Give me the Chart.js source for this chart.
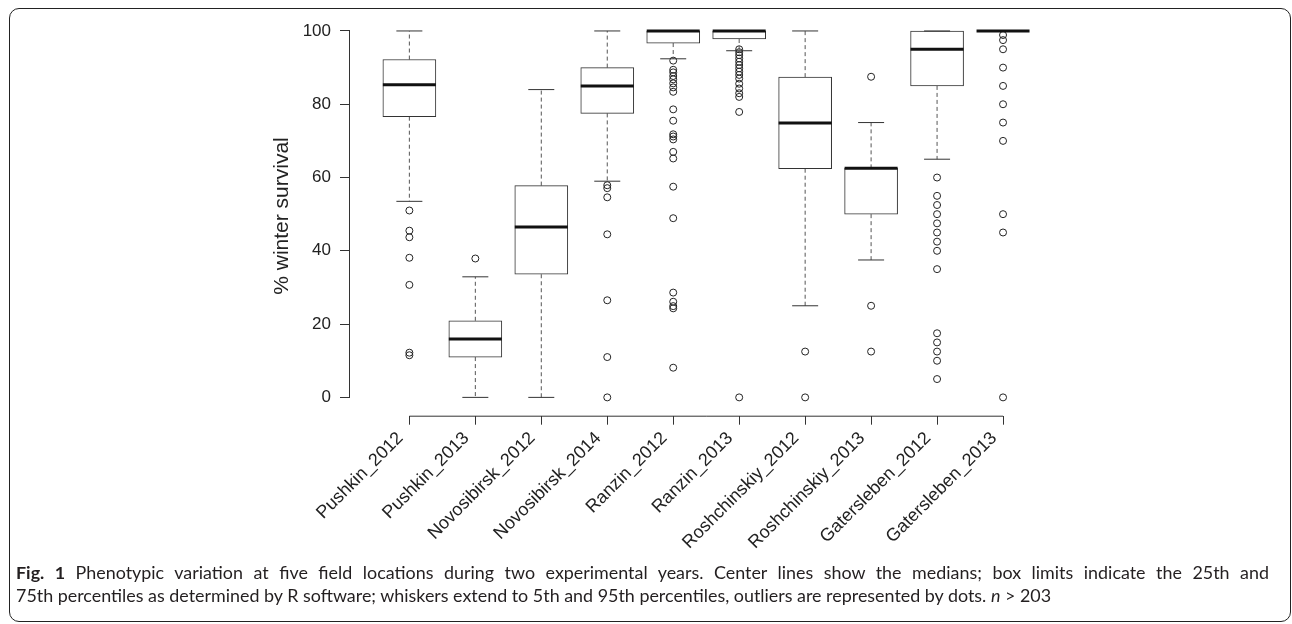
<!DOCTYPE html>
<html>
<head>
<meta charset="utf-8">
<script src="https://cdn.jsdelivr.net/npm/chart.js@4/dist/chart.umd.min.js"></script>
<style>
    body {
        margin: 0;
        width: 1292px;
        height: 624px;
        overflow: hidden;
        background: #fff;
    }
    #frame {
        position: absolute;
        left: 9px;
        top: 8px;
        width: 1280px;
        height: 612px;
        border: 1.5px solid #222;
        border-radius: 10px;
    }
    #wrap {
        position: absolute;
        left: 0;
        top: 0;
        width: 1292px;
        height: 624px;
    }
    #caption {
        position: absolute;
        left: 16px;
        top: 561px;
        width: 1253px;
        font-family: Lato, "Open Sans", sans-serif;
        font-size: 17.9px;
        line-height: 23px;
        color: #231f20;
        white-space: nowrap;
    }
    #caption .full {
        text-align: justify;
        text-align-last: justify;
        white-space: normal;
    }
</style>
</head>
<body>
<div id="frame"></div>
<div id="wrap"><canvas id="chart" width="1292" height="624"></canvas></div>
<div id="caption">
    <div class="full"><b>Fig. 1</b> Phenotypic variation at five field locations during two experimental years. Center lines show the medians; box limits indicate the 25th and</div>
    <div>75th percentiles as determined by R software; whiskers extend to 5th and 95th percentiles, outliers are represented by dots. <i>n</i> &gt; 203</div>
</div>
<script>
const categories = [
    "Pushkin_2012", "Pushkin_2013", "Novosibirsk_2012", "Novosibirsk_2014", "Ranzin_2012",
    "Ranzin_2013", "Roshchinskiy_2012", "Roshchinskiy_2013", "Gatersleben_2012", "Gatersleben_2013",
];
const whiskerLow = [53.5, 0, 0, 59.0, 92.4, 94.6, 25.0, 37.5, 65.0, 100];
const quartile1 = [76.6, 11.0, 33.6, 77.5, 96.7, 97.8, 62.4, 50.0, 85.0, 100];
const medians = [85.3, 15.9, 46.5, 85.0, 100, 100, 74.9, 62.5, 95.0, 100];
const quartile3 = [92.2, 20.9, 57.8, 90.0, 100, 100, 87.4, 62.5, 100, 100];
const whiskerHigh = [100, 32.9, 84.0, 100, 100, 100, 100, 75.0, 100, 100];
const outliers = [
    [51.0, 45.5, 43.7, 38.1, 30.7, 12.2, 11.5],
    [37.9],
    [],
    [57.9, 57.1, 54.6, 44.5, 26.5, 11.0, 0],
    [91.9, 89.4, 88.7, 87.7, 86.8, 85.7, 84.6, 83.4, 78.6, 75.5, 71.8, 71.2, 70.4, 67.0, 65.2,
        57.5, 48.9, 28.6, 26.1, 24.9, 24.3, 8.1],
    [95.0, 94.2, 93.4, 92.5, 91.6, 90.7, 89.8, 88.9, 88.0, 87.0, 85.6, 84.3, 83.0, 82.0, 77.9, 0],
    [12.5, 0],
    [87.5, 25.0, 12.5],
    [60.0, 55.0, 52.5, 50.0, 47.5, 45.0, 42.5, 40.0, 35.0, 17.5, 15.0, 12.5, 10.0, 5.0],
    [98.9, 97.5, 95.0, 90.0, 85.0, 80.0, 75.0, 70.0, 50.0, 45.0, 0],
];
const yTicks = [0, 20, 40, 60, 80, 100];

const positions = categories.map((name, i) => i + 1);

const boxData = positions.map((x, i) => ({ x: x, y: [quartile1[i], quartile3[i]] }));
const medianData = positions.map((x, i) => ({ x: x, y: medians[i] }));
const capData = positions.flatMap((x, i) => [
    { x: x, y: whiskerLow[i] },
    { x: x, y: whiskerHigh[i] },
]);
const whiskerData = positions.flatMap((x, i) => [
    { x: x, y: quartile3[i] },
    { x: x, y: whiskerHigh[i] },
    { x: x, y: null },
    { x: x, y: quartile1[i] },
    { x: x, y: whiskerLow[i] },
    { x: x, y: null },
]);
const outlierData = positions.flatMap((x, i) => {
    return outliers[i].map((v) => ({ x: x, y: v }));
});

const axisLines = {
    id: "axisLines",
    afterDraw(chart) {
        const ctx = chart.ctx;
        const xs = chart.scales.x;
        const ys = chart.scales.y;
        ctx.save();
        ctx.strokeStyle = "#333";
        ctx.lineWidth = 1;
        ctx.beginPath();
        ctx.moveTo(xs.left - 0.5, ys.getPixelForValue(yTicks[0]));
        ctx.lineTo(xs.left - 0.5, ys.getPixelForValue(yTicks[yTicks.length - 1]));
        ctx.moveTo(xs.getPixelForValue(positions[0]), ys.bottom + 0.5);
        ctx.lineTo(xs.getPixelForValue(positions[positions.length - 1]), ys.bottom + 0.5);
        ctx.stroke();
        ctx.restore();
    },
};

const tickFont = { family: "'Liberation Sans', Arial, sans-serif", size: 17 };

new Chart(document.getElementById("chart"), {
    type: "bar",
    data: {
        datasets: [
            {
                type: "scatter",
                data: medianData,
                pointStyle: "line",
                pointRadius: 26.5,
                pointBorderWidth: 3,
                borderColor: "#111",
                clip: false,
            },
            {
                type: "scatter",
                data: capData,
                pointStyle: "line",
                pointRadius: 13,
                pointBorderWidth: 1,
                borderColor: "#333",
                clip: false,
            },
            {
                type: "bar",
                data: boxData,
                barThickness: 53,
                backgroundColor: "#fff",
                borderColor: "#333",
                borderWidth: 1,
                borderSkipped: false,
            },
            {
                type: "line",
                data: whiskerData,
                borderColor: "#555",
                borderWidth: 1,
                borderDash: [4, 3],
                pointRadius: 0,
                spanGaps: false,
            },
            {
                type: "scatter",
                data: outlierData,
                pointStyle: "circle",
                pointRadius: 3.5,
                pointBorderWidth: 1,
                borderColor: "#222",
                backgroundColor: "rgba(0,0,0,0)",
                clip: false,
            },
        ],
    },
    options: {
        responsive: false,
        animation: false,
        events: [],
        layout: {
            autoPadding: false,
            padding: { left: 270, right: 229.6, top: 16.3, bottom: 0 },
        },
        plugins: {
            legend: { display: false },
            tooltip: { enabled: false },
        },
        scales: {
            x: {
                type: "linear",
                min: 0.1,
                max: 10.9,
                offset: false,
                afterBuildTicks: (axis) => {
                    axis.ticks = positions.map((v) => ({ value: v }));
                },
                afterFit: (axis) => {
                    axis.height = 208.3;
                    axis.paddingLeft = 0;
                    axis.paddingRight = 0;
                },
                grid: {
                    drawOnChartArea: false,
                    drawTicks: true,
                    tickLength: 9,
                    tickColor: "#333",
                    offset: false,
                },
                border: { display: false },
                ticks: {
                    autoSkip: false,
                    minRotation: 45,
                    maxRotation: 45,
                    padding: 3,
                    labelOffset: -9,
                    color: "#222",
                    font: { family: "'Liberation Sans', Arial, sans-serif", size: 18 },
                    callback: (value) => categories[value - 1],
                },
            },
            y: {
                min: -5,
                max: 104,
                afterBuildTicks: (axis) => {
                    axis.ticks = yTicks.map((v) => ({ value: v }));
                },
                afterFit: (axis) => {
                    axis.width = 80;
                    axis.paddingTop = 0;
                    axis.paddingBottom = 0;
                },
                grid: {
                    drawOnChartArea: false,
                    drawTicks: true,
                    tickLength: 10,
                    tickColor: "#333",
                },
                border: { display: false },
                ticks: {
                    padding: 9,
                    color: "#222",
                    font: tickFont,
                },
                title: {
                    display: true,
                    text: "% winter survival",
                    color: "#222",
                    padding: 0,
                    font: { family: "'Liberation Sans', Arial, sans-serif", size: 21 },
                },
            },
        },
    },
    plugins: [axisLines],
});
</script>
</body>
</html>
